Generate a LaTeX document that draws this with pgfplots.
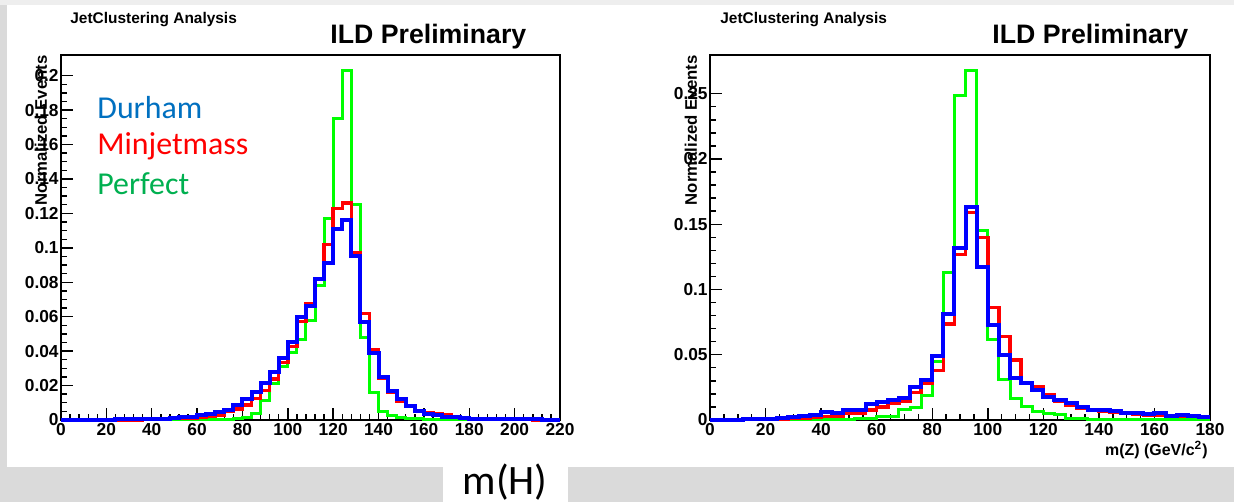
\documentclass[border=0pt]{standalone}
\usepackage{fontspec}
\setmainfont{Liberation Sans}
\newfontfamily\calib{Carlito}
\usepackage{pgfplots}
\pgfplotsset{compat=1.18}

\definecolor{hgreen}{RGB}{0,255,0}
\definecolor{hred}{RGB}{255,0,0}
\definecolor{hblue}{RGB}{0,0,255}
\definecolor{durham}{RGB}{0,112,192}
\definecolor{perfect}{RGB}{0,176,80}
\definecolor{slidegray}{RGB}{218,218,218}
\definecolor{topgray}{RGB}{238,238,238}

\pgfplotsset{
  rootframe/.style={
    scale only axis,
    axis line style={line width=1bp},
    tick align=inside,
    xtick pos=bottom, ytick pos=left,
    major tick length=6bp, minor tick length=3bp,
    tick style={black, line width=0.7bp},
    ticklabel style={font=\fontsize{8.7}{9}\selectfont\bfseries},
    /pgf/number format/assume math mode=true,
    /pgf/number format/fixed,
    scaled y ticks=false, scaled x ticks=false,
    yticklabel style={inner xsep=1bp},
    xticklabel style={inner ysep=1.5bp},
    clip=false,
  },
  hg/.style={const plot mark left, hgreen, line width=1.5bp, no marks},
  hr/.style={const plot mark left, hred, line width=1.7bp, no marks},
  hb/.style={const plot mark left, hblue, line width=2bp, no marks},
}

\begin{document}
\begin{tikzpicture}[x=0.5bp,y=0.5bp]
\useasboundingbox (0,0) rectangle (1234,502);
% slide background
\fill[slidegray] (0,0) rectangle (1234,502);
\fill[topgray] (0,497) rectangle (1234,502);
\fill[white] (7,35) rectangle (1234,497);
\fill[white] (443,0) rectangle (568,35);

% ---- m(H) ----
\begin{axis}[rootframe,
  at={(30.5bp,41bp)}, anchor=south west,
  width=249.5bp, height=182.5bp,
  xmin=0, xmax=220, ymin=0, ymax=0.212,
  xtick={0,20,...,220}, minor x tick num=4,
  ytick={0,0.02,...,0.2}, minor y tick num=3,
]
\addplot[hg] coordinates {
(0,0)(4,0)(8,0)(12,0)(16,0)(20,0)(24,0)(28,0)(32,0)(36,0)(40,0)(44,0)(48,0)(52,0)(56,0)(60,0)(64,0)
(68,0.0001)(72,0.0003)(76,0.0006)(80,0.0015)(84,0.0040)(88,0.0115)(92,0.0210)(96,0.0310)(100,0.0390)
(104,0.0470)(108,0.0580)(112,0.0780)(116,0.1170)(120,0.1750)(124,0.2030)(128,0.1250)(132,0.0480)
(136,0.0160)(140,0.0050)(144,0.0025)(148,0.0015)(152,0.0010)(156,0.0006)(160,0.0004)(164,0.0003)
(168,0.0002)(172,0.0001)(176,0)(180,0)(184,0)(188,0)(192,0)(196,0)(200,0)(204,0)(208,0)(212,0)(216,0)(220,0)};
\addplot[hr] coordinates {
(0,0.0001)(4,0.0001)(8,0.0001)(12,0.0001)(16,0.0001)(20,0.0001)(24,0.0001)(28,0.0001)(32,0.0001)
(36,0.0002)(40,0.0004)(44,0.0005)(48,0.0007)(52,0.0009)(56,0.0012)(60,0.0015)(64,0.0019)(68,0.0030)
(72,0.0048)(76,0.0065)(80,0.0088)(84,0.0126)(88,0.0172)(92,0.0238)(96,0.0335)(100,0.0428)(104,0.0572)
(108,0.0675)(112,0.0820)(116,0.1020)(120,0.1230)(124,0.1260)(128,0.0970)(132,0.0620)(136,0.0410)
(140,0.0240)(144,0.0160)(148,0.0108)(152,0.0082)(156,0.0050)(160,0.0043)(164,0.0038)(168,0.0030)
(172,0.0020)(176,0.0013)(180,0.0009)(184,0.0006)(188,0.0004)(192,0.0003)(196,0.0003)(200,0.0002)
(204,0.0002)(208,0.0001)(212,0.0001)(216,0.0001)(220,0.0001)};
\addplot[hb] coordinates {
(0,0.0002)(4,0.0002)(8,0.0002)(12,0.0002)(16,0.0002)(20,0.0002)(24,0.0003)(28,0.0003)(32,0.0003)
(36,0.0004)(40,0.0005)(44,0.0008)(48,0.0012)(52,0.0016)(56,0.0020)(60,0.0028)(64,0.0032)(68,0.0048)
(72,0.0060)(76,0.0085)(80,0.0120)(84,0.0165)(88,0.0212)(92,0.0280)(96,0.0362)(100,0.0452)(104,0.0600)
(108,0.0660)(112,0.0820)(116,0.0910)(120,0.1110)(124,0.1160)(128,0.0950)(132,0.0570)(136,0.0390)
(140,0.0250)(144,0.0170)(148,0.0122)(152,0.0080)(156,0.0055)(160,0.0037)(164,0.0028)(168,0.0020)
(172,0.0016)(176,0.0010)(180,0.0008)(184,0.0006)(188,0.0005)(192,0.0004)(196,0.0004)(200,0.0003)
(204,0.0003)(208,0.0003)(212,0.0002)(216,0.0002)(220,0.0002)};
\end{axis}

% ---- m(Z) ----
\begin{axis}[rootframe,
  at={(355bp,41bp)}, anchor=south west,
  width=250bp, height=182.5bp,
  xmin=0, xmax=180, ymin=0, ymax=0.2797,
  xtick={0,20,...,180}, minor x tick num=3,
  ytick={0,0.05,...,0.25}, minor y tick num=4,
]
\addplot[hg] coordinates {
(0,0)(4,0)(8,0)(12,0)(16,0)(20,0)(24,0)(28,0)(32,0)(36,0.0001)(40,0.0003)(44,0.0004)(48,0.0005)
(52,0.0010)(56,0.0013)(60,0.0025)(64,0.0030)(68,0.0080)(72,0.0092)(76,0.0190)(80,0.0450)(84,0.1130)
(88,0.2490)(92,0.2680)(96,0.1450)(100,0.0615)(104,0.0310)(108,0.0167)(112,0.0100)(116,0.0064)
(120,0.0050)(124,0.0040)(128,0.0013)(132,0.0008)(136,0.0005)(140,0.0004)(144,0.0003)(148,0.0002)
(152,0.0001)(156,0.0001)(160,0)(164,0)(168,0)(172,0)(176,0)(180,0)};
\addplot[hr] coordinates {
(0,0.0001)(4,0.0001)(8,0.0002)(12,0.0002)(16,0.0003)(20,0.0006)(24,0.0008)(28,0.0014)(32,0.0016)
(36,0.0020)(40,0.0026)(44,0.0030)(48,0.0048)(52,0.0050)(56,0.0077)(60,0.0100)(64,0.0125)(68,0.0140)
(72,0.0210)(76,0.0280)(80,0.0380)(84,0.0735)(88,0.1270)(92,0.1590)(96,0.1400)(100,0.0860)(104,0.0640)
(108,0.0460)(112,0.0285)(116,0.0258)(120,0.0190)(124,0.0140)(128,0.0110)(132,0.0090)(136,0.0077)
(140,0.0064)(144,0.0056)(148,0.0050)(152,0.0044)(156,0.0038)(160,0.0036)(164,0.0030)(168,0.0028)
(172,0.0025)(176,0.0024)(180,0.0024)};
\addplot[hb] coordinates {
(0,0.0003)(4,0.0003)(8,0.0003)(12,0.0004)(16,0.0005)(20,0.0010)(24,0.0013)(28,0.0024)(32,0.0030)
(36,0.0038)(40,0.0058)(44,0.0050)(48,0.0075)(52,0.0078)(56,0.0120)(60,0.0140)(64,0.0155)(68,0.0170)
(72,0.0250)(76,0.0305)(80,0.0490)(84,0.0810)(88,0.1320)(92,0.1630)(96,0.1170)(100,0.0730)(104,0.0500)
(108,0.0320)(112,0.0280)(116,0.0230)(120,0.0180)(124,0.0150)(128,0.0128)(132,0.0098)(136,0.0080)
(140,0.0077)(144,0.0070)(148,0.0056)(152,0.0050)(156,0.0044)(160,0.0050)(164,0.0032)(168,0.0038)
(172,0.0030)(176,0.0026)(180,0.0026)};
\end{axis}

% ---- texts ----
\node[anchor=west, inner sep=0, font=\fontsize{7.75}{8}\selectfont\bfseries] at (70,482) {JetClustering Analysis};
\node[anchor=west, inner sep=0, font=\fontsize{7.75}{8}\selectfont\bfseries] at (720,482) {JetClustering Analysis};
\node[anchor=west, inner sep=0, font=\fontsize{13.4}{14}\selectfont\bfseries] at (330,465) {ILD Preliminary};
\node[anchor=west, inner sep=0, font=\fontsize{13.4}{14}\selectfont\bfseries] at (992,465) {ILD Preliminary};
\node[rotate=90, anchor=east, inner sep=0, font=\fontsize{8.4}{9}\selectfont\bfseries] at (41,447) {Normalized Events};
\node[rotate=90, anchor=east, inner sep=0, font=\fontsize{8.4}{9}\selectfont\bfseries] at (691,447) {Normalized Events};
\node[anchor=east, inner sep=0, font=\fontsize{8}{9}\selectfont\bfseries] at (1208,52) {m(Z) (GeV/c\textsuperscript{2})};

\node[anchor=west, inner sep=0, text=durham, font=\calib\fontsize{16}{18}\selectfont] at (97,394) {Durham};
\node[anchor=west, inner sep=0, text=hred, font=\calib\fontsize{16}{18}\selectfont] at (97,356) {Minjetmass};
\node[anchor=west, inner sep=0, text=perfect, font=\calib\fontsize{16}{18}\selectfont] at (97,318) {Perfect};

\node[inner sep=0, font=\calib\fontsize{21}{22}\selectfont] at (505,20) {m(H)};
\end{tikzpicture}
\end{document}
